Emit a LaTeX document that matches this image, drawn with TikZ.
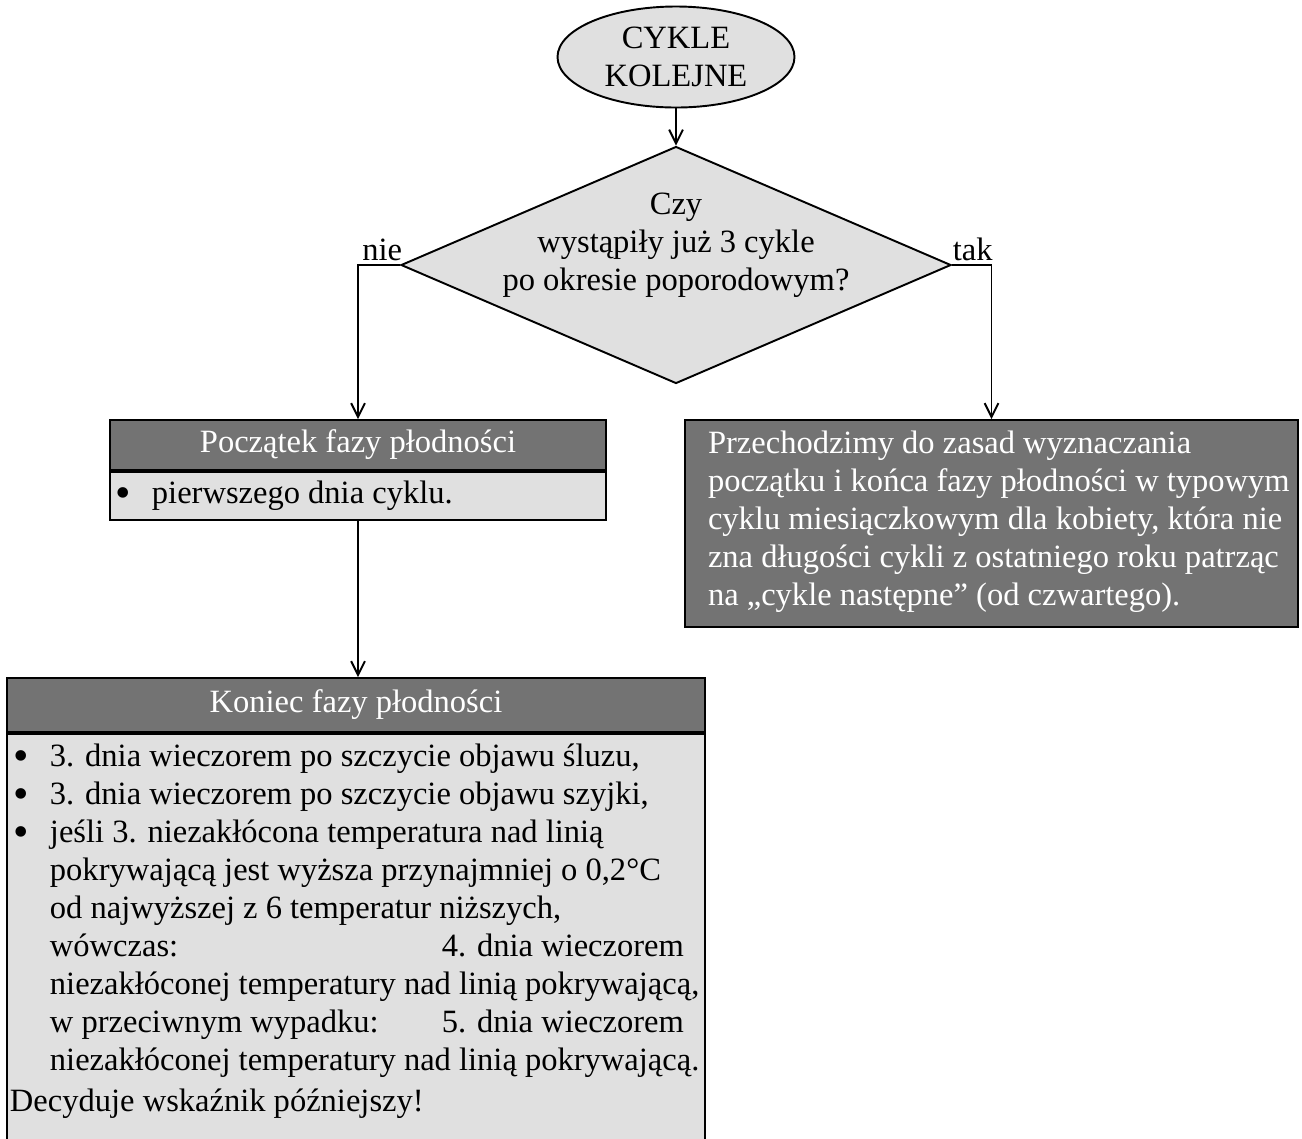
\documentclass[tikz,border=0pt]{standalone}
\usepackage{fontspec}
\setmainfont{Liberation Serif}
\usetikzlibrary{shapes.geometric,arrows.meta}

\definecolor{darkfill}{RGB}{115,115,115}
\definecolor{lightfill}{RGB}{224,224,224}
\newcommand{\pu}{0.3628pt}
\newlength{\bulw}\setlength{\bulw}{14.5pt}
\newcommand{\bul}{\makebox[\bulw][l]{\hspace{1.4pt}\smash{\raisebox{-1.4pt}{\fontsize{16pt}{16pt}\selectfont\textbullet}}}}
\newcommand{\ind}{\hspace*{\bulw}}

\begin{document}
\begin{tikzpicture}[x=\pu, y=-\pu, line width=0.7pt,
    every node/.style={font=\fontsize{11.8pt}{13.8pt}\selectfont},
    startbox/.style={shape=ellipse, draw=black, fill=lightfill, minimum width=237*\pu, minimum height=101*\pu, inner sep=0pt, align=center},
    decision/.style={shape=diamond, draw=black, fill=lightfill, minimum width=550*\pu, minimum height=237*\pu, inner sep=0pt},
    headbox/.style={shape=rectangle, draw=black, fill=darkfill, text=white, inner sep=0pt},
    bodybox/.style={shape=rectangle, draw=black, fill=lightfill, inner sep=0pt},
    flow/.style={-{Straight Barb[length=5pt,width=5pt]}}]
    \useasboundingbox (0,0) rectangle (1302,1138);
    \clip (0,0) rectangle (1302,1138);

    \node[startbox] (start) at (676, 57) {CYKLE\\KOLEJNE};
    \node[decision] (question) at (676, 265) {};
    \node[align=center] (questiontext) at (676, 245) {Czy\\wystąpiły już 3 cykle\\po okresie poporodowym?};
    \node[anchor=south east, inner xsep=0pt, inner ysep=1pt] (no) at ([xshift=3*\pu]question.west) {nie};
    \node[anchor=south west, inner xsep=0pt, inner ysep=1pt] (yes) at (question.east) {tak};

    \node[headbox, minimum width=496*\pu, minimum height=50*\pu] (starthead) at (358, 445) {Początek fazy płodności};
    \node[bodybox, minimum width=496*\pu, minimum height=48*\pu, anchor=north] (startbody) at (starthead.south) {};
    \node[anchor=west, inner sep=0pt] (starttext) at ([xshift=2*\pu]startbody.west) {\bul pierwszego dnia cyklu.};

    \node[headbox, minimum width=613*\pu, minimum height=207*\pu] (rulesbox) at (991.5, 523.5) {};
    \node[anchor=west, inner sep=0pt, align=left, text=white] (rulestext) at ([xshift=23*\pu, yshift=2*\pu]rulesbox.west)
      {Przechodzimy do zasad wyznaczania\\
       początku i końca fazy płodności w typowym\\
       cyklu miesiączkowym dla kobiety, która nie\\
       zna długości cykli z ostatniego roku patrząc\\
       na „cykle następne” (od czwartego).};

    \node[headbox, minimum width=698*\pu, minimum height=54*\pu] (endhead) at (356, 705) {Koniec fazy płodności};
    \node[bodybox, minimum width=698*\pu, minimum height=440*\pu, anchor=north] (endbody) at (endhead.south) {};
    \node[anchor=north west, inner sep=0pt, align=left] (endtext) at ([xshift=3*\pu, yshift=-10*\pu]endbody.north west)
      {\bul 3. dnia wieczorem po szczycie objawu śluzu,\\
       \bul 3. dnia wieczorem po szczycie objawu szyjki,\\
       \bul jeśli 3. niezakłócona temperatura nad linią\\
       \ind pokrywającą jest wyższa przynajmniej o 0,2°C\\
       \ind od najwyższej z 6 temperatur niższych,\\
       \ind \hbox to 230pt{wówczas:\hfill 4. dnia wieczorem}\\
       \ind niezakłóconej temperatury nad linią pokrywającą,\\
       \ind \hbox to 230pt{w przeciwnym wypadku:\hfill 5. dnia wieczorem}\\
       \ind niezakłóconej temperatury nad linią pokrywającą.\\[1pt]
       Decyduje wskaźnik późniejszy!};

    \draw[flow] (start) -- (question);
    \draw[flow] (question.west) -| (starthead.north);
    \draw[flow] (question.east) -| (rulesbox.north);
    \draw[flow] (startbody.south) -- (startbody.south |- endhead.north);
\end{tikzpicture}
\end{document}
